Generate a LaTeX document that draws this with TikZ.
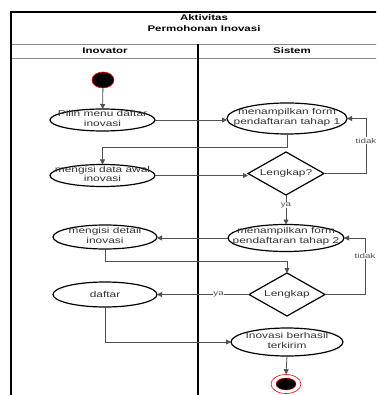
\documentclass[tikz,border=0pt]{standalone}
\usepackage{fontspec}
\setmainfont[FakeStretch=1.4]{Liberation Sans}
\usetikzlibrary{shapes.geometric,arrows.meta}
\definecolor{txt}{HTML}{333333}
\definecolor{wire}{HTML}{505050}
\definecolor{rule}{HTML}{8A8A8A}
\tikzset{
  act/.style 2 args={ellipse, draw=black, line width=1.2pt, fill=white,
    minimum width=#1pt, minimum height=#2pt, inner sep=0pt, outer sep=0pt},
  chk/.style={diamond, draw=black, line width=1.2pt, fill=white,
    minimum width=76pt, minimum height=43pt, inner sep=0pt, outer sep=0pt},
  txtin/.style={align=center, font=\fontsize{8.5}{9.8}\selectfont, text=txt},
  txttwo/.style={txtin, yshift=1.5pt},
  conn/.style={draw=wire, line width=0.8pt,
    -{Triangle[length=5pt,width=5pt]}},
  lab/.style={fill=white, inner sep=0.5pt, font=\fontsize{7}{8}\selectfont, text=wire},
  head/.style={font=\bfseries\fontsize{8.2}{11}\selectfont, align=center, text=black},
}
\begin{document}
\begin{tikzpicture}[x=1pt, y=-1pt]
\useasboundingbox (0,0) rectangle (376,395);
\clip (0,0) rectangle (376,395);

% swimlane frame
\draw[rule, line width=0.8pt] (11,44) -- (390,44);
\draw[rule, line width=0.8pt] (11,58) -- (390,58);
\draw[black, line width=2pt] (11,400) -- (11,12) -- (390,12);
\draw[black, line width=1.3pt] (198,44) -- (198,400);
\node[head] (title) at (204,23.5) {Aktivitas\\Permohonan Inovasi};
\node[head] (laneA) at (105,51) {Inovator};
\node[head] (laneB) at (292,51) {Sistem};

% initial state
\node[ellipse, fill=black, draw=red, line width=0.6pt, minimum width=22pt,
  minimum height=16pt, inner sep=0pt] (start) at (103,80) {};

% activities and decisions
\node[act={105}{22}, label={[txttwo]center:Pilih menu daftar\\inovasi}] (e1) at (102.5,120) {};
\node[act={120}{31}, label={[txttwo]center:menampilkan form\\pendaftaran tahap 1}] (a1) at (287,118.5) {};
\node[act={105}{22}, label={[txttwo]center:mengisi data awal\\inovasi}] (e2) at (102.5,175.5) {};
\node[chk, label={[txtin]center:Lengkap?}] (d1) at (286,173.5) {};
\node[act={116}{27}, label={[txttwo]center:menampilkan form\\pendaftaran tahap 2}] (a2) at (286,238) {};
\node[act={104}{24}, label={[txttwo]center:mengisi detail\\inovasi}] (e3) at (105,237) {};
\node[chk, label={[txtin]center:Lengkap}] (d2) at (287,294.5) {};
\node[act={104}{25}, label={[txtin]center:daftar}] (e4) at (105,294.5) {};
\node[act={112}{28}, label={[txttwo]center:Inovasi berhasil\\terkirim}] (a3) at (287,342) {};

% final state
\node[ellipse, draw=red, line width=0.6pt, fill=white, minimum width=30pt,
  minimum height=19pt, inner sep=0pt] (stop) at (286,384) {};
\node[ellipse, fill=black, draw=red, line width=0.4pt, minimum width=20pt,
  minimum height=12pt, inner sep=0pt] (stopdot) at (stop.center) {};

% routing helpers
\coordinate (j1) at (0,147);
\coordinate (j2) at (0,261);
\coordinate (r1) at (366,0);
\coordinate (r2) at (365,0);

% flows
\draw[conn] (start) -- (e1);
\draw[conn] (e1.east) -- (e1.east -| a1.west);
\draw[conn] (a1.south) -- (a1.south |- j1) -| (e2.north);
\draw[conn] (e2.east) -- (e2.east -| d1.west);
\draw[conn] (d1.east) -- (d1.east -| r1) -- node[lab, pos=0.6] {tidak} (a1.east -| r1) -- (a1.east);
\draw[conn] (d1.south) -- node[lab, pos=0.35] {ya} (a2.north);
\draw[conn] (a2.west) -- (a2.west -| e3.east);
\draw[conn] (e3.south) -- (e3.south |- j2) -| (d2.north);
\draw[conn] (d2.east) -- (d2.east -| r2) -- node[lab, pos=0.68] {tidak} (a2.east -| r2) -- (a2.east);
\draw[conn] (d2.west) -- node[lab, pos=0.33] {ya} (d2.west -| e4.east);
\draw[conn] (e4.south) |- (a3.west);
\draw[conn] (a3.south) -- (stop.north);
\end{tikzpicture}
\end{document}
